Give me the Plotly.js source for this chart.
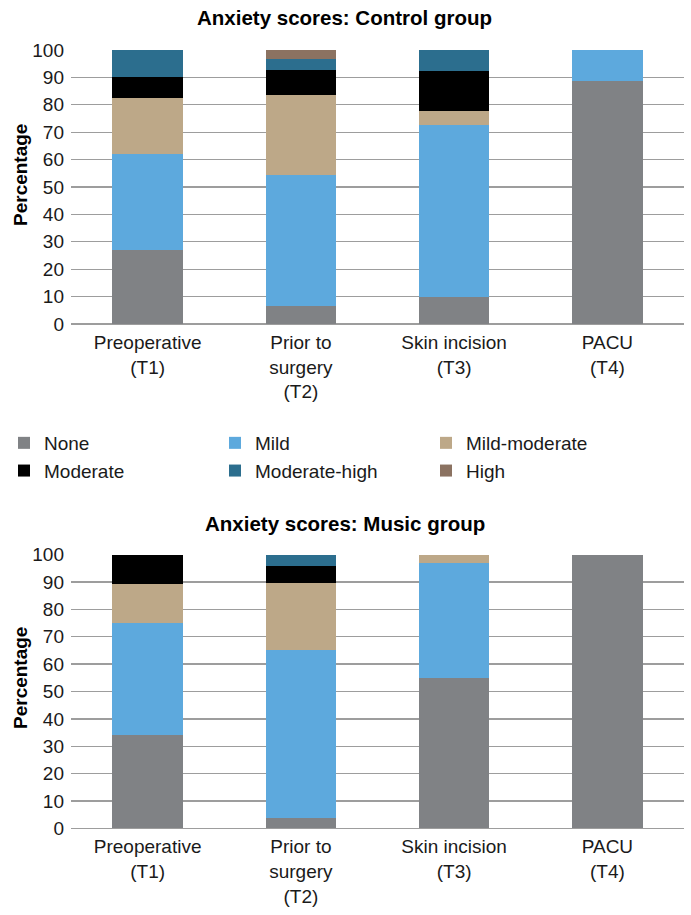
<!DOCTYPE html>
<html>
<head>
<meta charset="utf-8">
<script src="https://cdn.plot.ly/plotly-3.0.1.min.js"></script>
<style>html,body{margin:0;padding:0;background:#fff;}#chart{width:691px;height:915px;}</style>
</head>
<body>
<div id="chart"></div>
<script>
var categories = ["Preoperative<br>(T1)", "Prior to<br>surgery<br>(T2)", "Skin incision<br>(T3)", "PACU<br>(T4)"];
var levels = ["None", "Mild", "Mild-moderate", "Moderate", "Moderate-high", "High"];
var colors = ["#808285", "#5DA9DD", "#BDA888", "#000000", "#2C6E8E", "#8B7261"];

// Control group percentages per level (T1..T4)
var controlNone = [27, 6.5, 10, 88.7];
var controlMild = [35, 47.8, 62.6, 11.3];
var controlMildModerate = [20.5, 29.3, 5.1, 0];
var controlModerate = [7.5, 9.1, 14.6, 0];
var controlModerateHigh = [10, 4, 7.7, 0];
var controlHigh = [0, 3.3, 0, 0];

// Music group percentages per level (T1..T4)
var musicNone = [34, 3.9, 55, 100];
var musicMild = [41, 61.3, 42, 0];
var musicMildModerate = [14.4, 24.4, 3, 0];
var musicModerate = [10.6, 6.4, 0, 0];
var musicModerateHigh = [0, 4, 0, 0];
var musicHigh = [0, 0, 0, 0];

var yTicks = [0, 10, 20, 30, 40, 50, 60, 70, 80, 90, 100];

var controlSeries = [controlNone, controlMild, controlMildModerate, controlModerate, controlModerateHigh, controlHigh];
var musicSeries = [musicNone, musicMild, musicMildModerate, musicModerate, musicModerateHigh, musicHigh];

var FONT = "Liberation Sans, Arial, sans-serif";
var traces = [];
levels.forEach(function (lv, i) {
  traces.push({
    type: "bar", name: lv, x: categories, y: controlSeries[i],
    marker: {color: colors[i], line: {width: 0}},
    xaxis: "x", yaxis: "y", legendgroup: lv, showlegend: true, hoverinfo: "name+y"
  });
});
levels.forEach(function (lv, i) {
  traces.push({
    type: "bar", name: lv, x: categories, y: musicSeries[i],
    marker: {color: colors[i], line: {width: 0}},
    xaxis: "x2", yaxis: "y2", legendgroup: lv, showlegend: false, hoverinfo: "name+y"
  });
});

var H = 915, W = 691;
function fy(px) { return 1 - px / H; }
function fx(px) { return px / W; }

var yBase = {
  range: [0, 100], tickvals: yTicks, ticktext: yTicks.map(String),
  showgrid: true, gridcolor: "#9d9d9d", gridwidth: 1.3,
  zeroline: true, zerolinecolor: "#9d9d9d", zerolinewidth: 1.3,
  showline: false, ticks: "", ticklabelstandoff: 6,
  tickfont: {family: FONT, size: 19, color: "#1a1a1a"},
  automargin: false, fixedrange: true
};
var xBase = {
  showgrid: false, zeroline: false, showline: false, ticks: "",
  tickfont: {family: FONT, size: 19, color: "#1a1a1a"},
  automargin: false, fixedrange: true, ticklabelstandoff: 5
};

var titleFont = {family: FONT, size: 20.5, color: "#000", weight: "bold"};
var ytFont = {family: FONT, size: 19, color: "#000", weight: "bold"};

var layout = {
  width: W, height: H,
  margin: {l: 0, r: 0, t: 0, b: 0},
  paper_bgcolor: "#fff", plot_bgcolor: "#fff",
  barmode: "stack", bargap: 0.54,
  font: {family: FONT, size: 19, color: "#1a1a1a"},
  xaxis: Object.assign({}, xBase, {anchor: "y", domain: [fx(71), fx(684)]}),
  yaxis: Object.assign({}, yBase, {anchor: "x", domain: [fy(324), fy(50)]}),
  xaxis2: Object.assign({}, xBase, {anchor: "y2", domain: [fx(71), fx(684)]}),
  yaxis2: Object.assign({}, yBase, {anchor: "x2", domain: [fy(828.3), fy(554.7)]}),
  showlegend: true,
  legend: {
    orientation: "h", x: fx(4), xanchor: "left", y: fy(424), yanchor: "top",
    entrywidth: 166, entrywidthmode: "pixels", traceorder: "normal",
    font: {family: FONT, size: 19, color: "#1a1a1a"}, bgcolor: "rgba(0,0,0,0)"
  },
  annotations: [
    {text: "Anxiety scores: Control group", xref: "paper", yref: "paper", x: fx(344.5), y: fy(18), xanchor: "center", yanchor: "middle", showarrow: false, font: titleFont},
    {text: "Anxiety scores: Music group", xref: "paper", yref: "paper", x: fx(344.5), y: fy(523), xanchor: "center", yanchor: "middle", showarrow: false, font: titleFont},
    {text: "Percentage", textangle: -90, xref: "paper", yref: "paper", x: fx(20), y: fy(175), xanchor: "center", yanchor: "middle", showarrow: false, font: ytFont},
    {text: "Percentage", textangle: -90, xref: "paper", yref: "paper", x: fx(20), y: fy(678), xanchor: "center", yanchor: "middle", showarrow: false, font: ytFont}
  ]
};

Plotly.newPlot("chart", traces, layout, {displayModeBar: false, staticPlot: true});
</script>
</body>
</html>
